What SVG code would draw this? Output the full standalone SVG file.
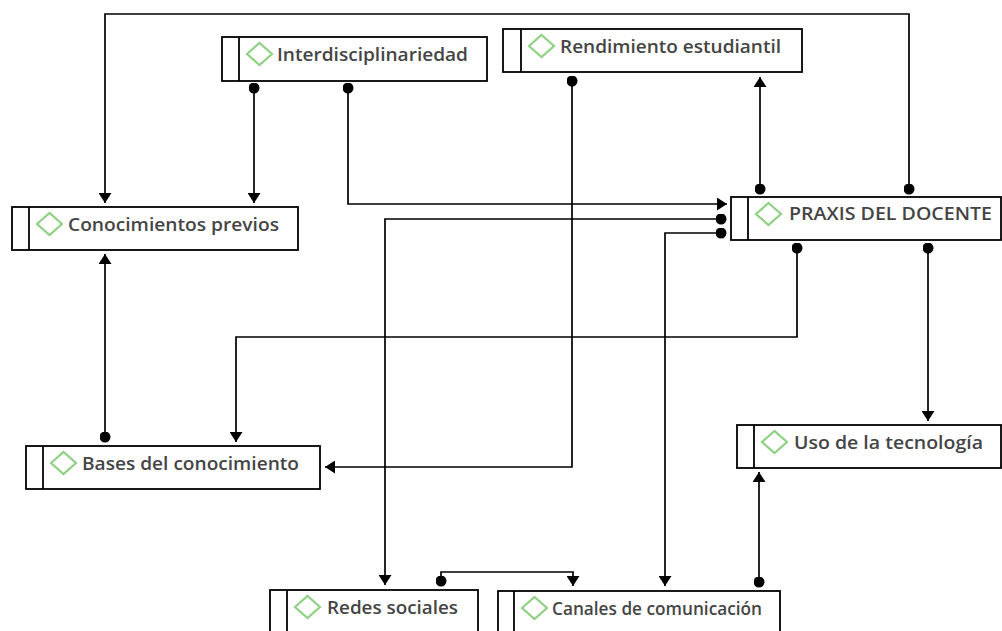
<svg xmlns="http://www.w3.org/2000/svg" width="1002" height="631" viewBox="0 0 1002 631">
<style>
.box{fill:#fff;stroke:#000;stroke-width:1.8}
.div{stroke:#000;stroke-width:1.8}
.dia{fill:none;stroke:#8fd184;stroke-width:2.2}
.lbl{font-family:"Open Sans","Noto Sans",sans-serif;font-size:18px;font-weight:600;fill:#454545}
.con{fill:none;stroke:#000;stroke-width:1.7;marker-start:url(#dot);marker-end:url(#arr)}
</style>
<defs>
<marker id="arr" viewBox="0 0 10 13" refX="10" refY="6.5" markerWidth="10" markerHeight="13" markerUnits="userSpaceOnUse" orient="auto"><path d="M0,0 L10,6.5 L0,13 z" fill="#000"/></marker>
<marker id="dot" viewBox="0 0 11 11" refX="5.5" refY="5.5" markerWidth="11" markerHeight="11" markerUnits="userSpaceOnUse" orient="auto"><circle cx="5.5" cy="5.5" r="5.5" fill="#000"/></marker>
<path id="d" d="M0,0 L12.5,-11 L25,0 L12.5,11 z"/>
</defs>
<rect width="1002" height="631" fill="#fff"/>
<g id="connectors">
<path class="con" d="M909,189 V14 H105 V203"/>
<path class="con" d="M254,88 V203"/>
<path class="con" d="M348,88 V204 H727"/>
<path class="con" d="M760,189 V77"/>
<path class="con" d="M572,81 V467 H325"/>
<path class="con" d="M721,219 H385 V585"/>
<path class="con" d="M721,233 H665 V586"/>
<path class="con" d="M797,248 V337 H236 V442"/>
<path class="con" d="M928,248 V421"/>
<path class="con" d="M105,437 V254"/>
<path class="con" d="M441,581 V572 H573 V586"/>
<path class="con" d="M759,582 V472"/>
</g>
<g id="n-interdisciplinariedad">
<rect class="box" x="222" y="37" width="265" height="44"/><line class="div" x1="239" y1="37" x2="239" y2="81"/>
<use href="#d" class="dia" x="247" y="54"/>
<text class="lbl" x="277" y="61" textLength="191" lengthAdjust="spacingAndGlyphs">Interdisciplinariedad</text>
</g>
<g id="n-rendimiento">
<rect class="box" x="503" y="29" width="299" height="43"/><line class="div" x1="521" y1="29" x2="521" y2="72"/>
<use href="#d" class="dia" x="529" y="46"/>
<text class="lbl" x="560" y="53" textLength="221" lengthAdjust="spacingAndGlyphs">Rendimiento estudiantil</text>
</g>
<g id="n-praxis">
<rect class="box" x="731" y="197" width="270" height="43"/><line class="div" x1="748" y1="197" x2="748" y2="240"/>
<use href="#d" class="dia" x="756" y="214"/>
<text class="lbl" x="789" y="220" textLength="203" lengthAdjust="spacingAndGlyphs">PRAXIS DEL DOCENTE</text>
</g>
<g id="n-conocimientos">
<rect class="box" x="12" y="207" width="286" height="43"/><line class="div" x1="29" y1="207" x2="29" y2="250"/>
<use href="#d" class="dia" x="37" y="224"/>
<text class="lbl" x="68" y="231" textLength="211" lengthAdjust="spacingAndGlyphs">Conocimientos previos</text>
</g>
<g id="n-bases">
<rect class="box" x="26" y="446" width="294" height="43"/><line class="div" x1="43" y1="446" x2="43" y2="489"/>
<use href="#d" class="dia" x="51" y="463"/>
<text class="lbl" x="82" y="470" textLength="217" lengthAdjust="spacingAndGlyphs">Bases del conocimiento</text>
</g>
<g id="n-uso">
<rect class="box" x="737" y="425" width="264" height="43"/><line class="div" x1="754" y1="425" x2="754" y2="468"/>
<use href="#d" class="dia" x="762" y="442"/>
<text class="lbl" x="794" y="449" textLength="189" lengthAdjust="spacingAndGlyphs">Uso de la tecnología</text>
</g>
<g id="n-redes">
<rect class="box" x="270" y="590" width="208" height="60"/><line class="div" x1="287" y1="590" x2="287" y2="650"/>
<use href="#d" class="dia" x="295" y="607"/>
<text class="lbl" x="327" y="614" textLength="131" lengthAdjust="spacingAndGlyphs">Redes sociales</text>
</g>
<g id="n-canales">
<rect class="box" x="498" y="591" width="282" height="60"/><line class="div" x1="514" y1="591" x2="514" y2="651"/>
<use href="#d" class="dia" x="522" y="608"/>
<text class="lbl" x="552" y="615" textLength="210" lengthAdjust="spacingAndGlyphs">Canales de comunicación</text>
</g>
</svg>
